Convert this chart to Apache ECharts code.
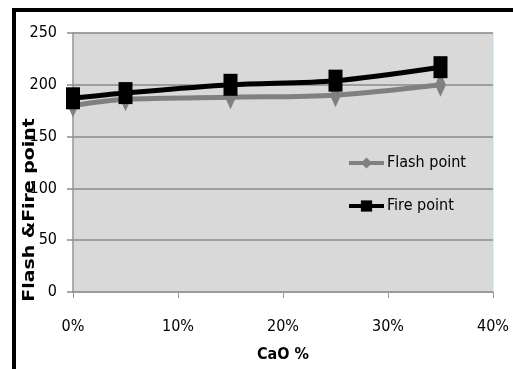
<!DOCTYPE html>
<html>
<head>
<meta charset="utf-8">
<script src="https://cdn.jsdelivr.net/npm/echarts@6/dist/echarts.min.js"></script>
<style>
  html, body { margin: 0; padding: 0; background: #ffffff; }
  #chart { width: 513px; height: 369px; }
</style>
</head>
<body>
<div id="chart"></div>
<script>
// CaO content (%) and measured temperatures
const caoPercent = [0, 5, 15, 25, 35];
const flashPoint = [180, 186, 188, 190, 200];
const firePoint = [187, 192, 200, 204, 217];
const seriesNames = ['Flash point', 'Fire point'];
const xAxisTitle = 'CaO %';
const yAxisTitle = 'Flash &Fire point';

const narrow = '"DejaVu Sans Condensed", "Liberation Sans Narrow", sans-serif';

const chart = echarts.init(document.getElementById('chart'), null, { renderer: 'canvas' });

chart.setOption({
  animation: false,
  backgroundColor: '#ffffff',
  grid: {
    left: 73, right: 20, top: 33, bottom: 77,
    show: true,
    backgroundColor: '#d9d9d9',
    borderColor: '#c4e0ea',
    borderWidth: 1
  },
  xAxis: {
    type: 'value',
    min: 0, max: 40, interval: 10,
    name: xAxisTitle,
    nameLocation: 'middle',
    nameGap: 55,
    nameTextStyle: { fontFamily: narrow, fontWeight: 'bold', fontSize: 16, color: '#000' },
    axisLine: { show: true, lineStyle: { color: '#9a9a9a', width: 1.5 } },
    axisTick: { show: true, length: 6, lineStyle: { color: '#9a9a9a', width: 1 } },
    axisLabel: { formatter: '{value}%', margin: 27, fontFamily: narrow, fontSize: 16, color: '#000' },
    splitLine: { show: false }
  },
  yAxis: {
    type: 'value',
    min: 0, max: 250, interval: 50,
    axisLine: { show: true, lineStyle: { color: '#9a9a9a', width: 1.5 } },
    axisTick: { show: true, length: 6, lineStyle: { color: '#8a8a8a', width: 1.5 } },
    axisLabel: { margin: 16, fontFamily: narrow, fontSize: 16, color: '#000' },
    splitLine: { show: true, lineStyle: { color: '#8a8a8a', width: 1.5 } }
  },
  legend: {
    orient: 'vertical',
    left: 342, top: 150,
    itemWidth: 35, itemHeight: 14, itemGap: 27,
    lineStyle: { width: 4 },
    textStyle: { fontFamily: narrow, fontSize: 16, color: '#000', padding: [0, 0, 0, -2] },
    data: seriesNames
  },
  graphic: [
    { type: 'rect', shape: { x: 12, y: 8, width: 501, height: 4 }, style: { fill: '#000' } },
    { type: 'rect', shape: { x: 12, y: 8, width: 4, height: 361 }, style: { fill: '#000' } },
    {
      type: 'text',
      x: 30, y: 210,
      rotation: Math.PI / 2,
      scaleX: 1.26,
      style: {
        text: yAxisTitle,
        fontFamily: '"DejaVu Sans", sans-serif',
        fontWeight: 'bold',
        fontSize: 15,
        fill: '#000',
        align: 'center',
        verticalAlign: 'middle'
      }
    }
  ],
  series: [
    {
      name: seriesNames[0],
      type: 'line',
      smooth: 0.3,
      data: caoPercent.map((x, i) => [x, flashPoint[i]]),
      lineStyle: { color: '#808080', width: 5 },
      itemStyle: { color: '#808080' },
      symbol: 'diamond',
      symbolSize: [11, 24],
      z: 2
    },
    {
      name: seriesNames[1],
      type: 'line',
      smooth: 0.3,
      data: caoPercent.map((x, i) => [x, firePoint[i]]),
      lineStyle: { color: '#000000', width: 5 },
      itemStyle: { color: '#000000' },
      symbol: 'rect',
      symbolSize: [14, 22],
      z: 3
    }
  ]
});
</script>
</body>
</html>
